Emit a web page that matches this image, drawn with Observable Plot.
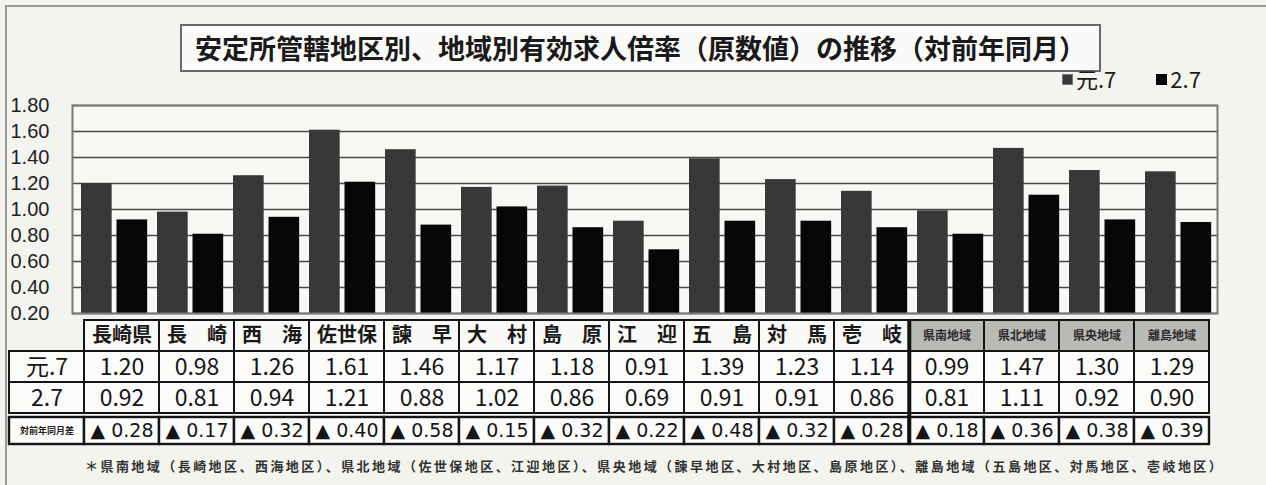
<!DOCTYPE html>
<html>
<head>
<meta charset="utf-8">
<script src="https://cdn.jsdelivr.net/npm/d3@7"></script>
<script src="https://cdn.jsdelivr.net/npm/@observablehq/plot@0.6"></script>
<style>
  html, body { margin: 0; padding: 0; background: #f3f3ef; }
  #wrap { position: relative; width: 1266px; height: 485px; overflow: hidden; font-family: "Noto Sans CJK JP", sans-serif; color: #111; }
  #border { position: absolute; left: 5px; top: 5px; width: 1270px; height: 490px; border-left: 2px solid #9a9a96; border-top: 2px solid #9a9a96; }
  #title { position: absolute; left: 180px; top: 24px; width: 917px; height: 44px; border: 2px solid #6a6a6a; background: #fafaf8; font-size: 27px; font-weight: 700; line-height: 44px; text-align: center; white-space: nowrap; color: #1a1a1a; }
  #legend { position: absolute; left: 1062px; top: 62px; font-size: 22px; white-space: nowrap; color: #1a1a1a; font-family: "Liberation Sans Narrow", "Noto Sans CJK JP", sans-serif; }
  #legend span.item { display: inline-block; margin-right: 40px; }
  #legend span.sw { display: inline-block; width: 9px; height: 9px; margin-right: 3px; vertical-align: 3px; }
  #bars { position: absolute; left: 0; top: 0; }
  #table { position: absolute; left: 0; top: 315px; }
  #foot { position: absolute; left: 85px; top: 456px; font-size: 13px; letter-spacing: 2.45px; font-weight: 700; color: #333; white-space: nowrap; }
</style>
</head>
<body>
<div id="wrap">
  <div id="border"></div>
  <div id="bars"></div>
  <div id="table"></div>
  <div id="title"></div>
  <div id="legend"></div>
  <div id="foot"></div>
</div>
<script>
// ---- data ----
const categories = ["長崎県","長崎","西海","佐世保","諫早","大村","島原","江迎","五島","対馬","壱岐","県南地域","県北地域","県央地域","離島地域"];
const regionCategories = ["県南地域","県北地域","県央地域","離島地域"];
const seriesNames = ["元.7","2.7"];
const valuesPrev = [1.20,0.98,1.26,1.61,1.46,1.17,1.18,0.91,1.39,1.23,1.14,0.99,1.47,1.30,1.29];
const valuesCurr = [0.92,0.81,0.94,1.21,0.88,1.02,0.86,0.69,0.91,0.91,0.86,0.81,1.11,0.92,0.90];
const diffs = [0.28,0.17,0.32,0.40,0.58,0.15,0.32,0.22,0.48,0.32,0.28,0.18,0.36,0.38,0.39];
const yTicks = [0.20,0.40,0.60,0.80,1.00,1.20,1.40,1.60,1.80];
const diffLabel = "対前年同月差";
const titleText = "安定所管轄地区別、地域別有効求人倍率（原数値）の推移（対前年同月）";
const footText = "＊県南地域（長崎地区、西海地区）、県北地域（佐世保地区、江迎地区）、県央地域（諫早地区、大村地区、島原地区）、離島地域（五島地区、対馬地区、壱岐地区）";

const colorPrev = "#383838";
const colorCurr = "#070707";

// ---- title / legend / footnote ----
document.getElementById("title").textContent = titleText;
document.getElementById("foot").textContent = footText;
const legend = document.getElementById("legend");
[[seriesNames[0], colorPrev, "#777"], [seriesNames[1], colorCurr, "#000"]].forEach(([name, c, b]) => {
  const it = document.createElement("span"); it.className = "item";
  const sw = document.createElement("span"); sw.className = "sw";
  sw.style.background = c; sw.style.border = "1px solid " + b;
  it.appendChild(sw); it.appendChild(document.createTextNode(name));
  legend.appendChild(it);
});

// ---- bar chart ----
const W = 1266;
const mL = 72, mR = 49;
const bw = (W - mL - mR) / categories.length;
const barW = 31;
const prevRows = categories.map((c, i) => ({cat: c, v: valuesPrev[i]}));
const currRows = categories.map((c, i) => ({cat: c, v: valuesCurr[i]}));

const bars = Plot.plot({
  width: W, height: 330,
  marginLeft: mL, marginRight: mR, marginTop: 105, marginBottom: 17,
  style: {background: "transparent", overflow: "visible", fontFamily: "Liberation Sans, Arial, sans-serif", fontSize: "20px", color: "#222"},
  x: {domain: categories, padding: 0, axis: null},
  y: {domain: [0.2, 1.8], axis: null, label: null},
  marks: [
    Plot.frame({fill: "#f8f8f5", stroke: null}),
    Plot.ruleY(yTicks, {stroke: "#4a4a4a", strokeWidth: 1.6}),
    Plot.barY(prevRows, {x: "cat", y1: 0.2, y2: "v", fill: colorPrev, insetLeft: 6, insetRight: bw - 6 - barW}),
    Plot.barY(currRows, {x: "cat", y1: 0.2, y2: "v", fill: colorCurr, insetLeft: 41.5, insetRight: bw - 41.5 - barW}),
    Plot.axisY(yTicks, {label: null, tickSize: 0, tickPadding: 0, textAnchor: "start", dx: -62, tickFormat: d => d.toFixed(2), fill: "#222"}),
    Plot.frame({stroke: "#7a7a7a", strokeWidth: 2})
  ]
});
document.getElementById("bars").appendChild(bars);

// ---- data table ----
const tL = 5, tR = 54;
const cols = ["", ...categories];
const tbw = (W - tL - tR) / cols.length;
const rowKeys = ["cat", "v1", "v2", "diff"];
const spaced = s => s.length === 2 ? s[0] + "　" + s[1] : s;

const headerCells = categories.map(c => ({col: c, row: "cat", region: regionCategories.includes(c), text: regionCategories.includes(c) ? c : spaced(c)}));
const valueCells = [
  {col: "", row: "v1", text: seriesNames[0]},
  {col: "", row: "v2", text: seriesNames[1]},
  ...categories.map((c, i) => ({col: c, row: "v1", text: valuesPrev[i].toFixed(2)})),
  ...categories.map((c, i) => ({col: c, row: "v2", text: valuesCurr[i].toFixed(2)}))
];
const diffCells = [
  {col: "", row: "diff", text: diffLabel, small: true},
  ...categories.map((c, i) => ({col: c, row: "diff", text: "▲ " + diffs[i].toFixed(2)}))
];

const table = Plot.plot({
  width: W, height: 135,
  marginLeft: tL, marginRight: tR, marginTop: 5, marginBottom: 6,
  style: {background: "transparent", overflow: "visible"},
  x: {domain: cols, padding: 0, axis: null},
  y: {domain: rowKeys, padding: 0, axis: null},
  marks: [
    Plot.cell(headerCells, {x: "col", y: "row", fill: d => d.region ? "#b9b9b6" : "#f9f9f7", stroke: "#151515", strokeWidth: 2, inset: 0}),
    Plot.cell(valueCells, {x: "col", y: "row", fill: "#fbfbf9", stroke: "#151515", strokeWidth: 2, inset: 0}),
    Plot.cell(diffCells, {x: "col", y: "row", fill: "#fbfbf9", stroke: "#151515", strokeWidth: 2.4, inset: 0, insetTop: 4}),
    Plot.ruleX(["県南地域"], {x: d => d, dx: -tbw / 2, stroke: "#111", strokeWidth: 4}),
    Plot.text(headerCells.filter(d => !d.region), {x: "col", y: "row", text: "text", fontSize: 20, fontWeight: "bold", fontFamily: "Noto Sans CJK JP", fill: "#1a1a1a"}),
    Plot.text(headerCells.filter(d => d.region), {x: "col", y: "row", text: "text", fontSize: 12, fontWeight: "bold", fontFamily: "Noto Sans CJK JP", fill: "#2a2a2a"}),
    Plot.text(valueCells, {x: "col", y: "row", text: "text", fontSize: 23, fontFamily: "Liberation Sans Narrow, Noto Sans CJK JP, sans-serif", fill: "#151515", dy: 1}),
    Plot.text(diffCells.filter(d => !d.small), {x: "col", y: "row", text: "text", fontSize: 19, fontFamily: "Liberation Sans Narrow, DejaVu Sans, sans-serif", fill: "#151515", dy: 2}),
    Plot.text(diffCells.filter(d => d.small), {x: "col", y: "row", text: "text", fontSize: 9, fontWeight: "bold", fontFamily: "Noto Sans CJK JP", fill: "#222", dy: 2})
  ]
});
document.getElementById("table").appendChild(table);
</script>
</body>
</html>
